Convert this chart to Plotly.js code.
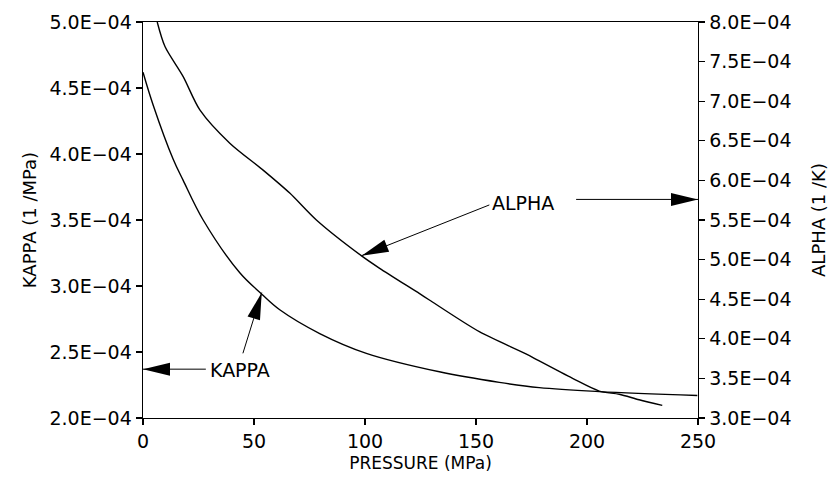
<!DOCTYPE html>
<html><head><meta charset="utf-8">
<script src="https://cdn.plot.ly/plotly-3.0.1.min.js"></script>
<style>html,body{margin:0;padding:0;background:#fff}</style>
</head><body><div id="chart" style="width:839px;height:479px"></div>
<script>
// Data (pressure in MPa, values in units of 1E-04)
const pressureKappa = [0, 4.6, 13.6, 18.1, 27.1, 43.6, 53.4, 61.6, 79.6, 100.6, 133.5, 160.5, 178.5, 205.5, 249.7];
const kappaE4 = [4.62, 4.37, 3.96, 3.80, 3.50, 3.10, 2.94, 2.82, 2.64, 2.49, 2.35, 2.27, 2.23, 2.20, 2.17];
const pressureAlpha = [6.4, 9.9, 18.1, 25.6, 39.1, 54.1, 66.1, 78.1, 98.3, 106.6, 124.6, 129, 151.5, 172.5, 178.5, 193.5, 205.5, 214.5, 223.5, 233.9];
const alphaE4 = [8.0, 7.69, 7.31, 6.89, 6.47, 6.13, 5.84, 5.50, 5.05, 4.89, 4.57, 4.49, 4.09, 3.81, 3.72, 3.50, 3.34, 3.30, 3.23, 3.16];
const xTicks = [0, 50, 100, 150, 200, 250];
const kappaTicksE4 = [2.0, 2.5, 3.0, 3.5, 4.0, 4.5, 5.0];
const alphaTicksE4 = [3.0, 3.5, 4.0, 4.5, 5.0, 5.5, 6.0, 6.5, 7.0, 7.5, 8.0];
const fmt = v => v.toFixed(1) + 'E\u221204';

const W = 839, H = 479, M = {l: 143, r: 141, t: 22, b: 61};
const xRange = [0, 250], y1Range = [2.0e-4, 5.0e-4], y2Range = [3.0e-4, 8.0e-4];
const sx = (W - M.l - M.r) / (xRange[1] - xRange[0]);
const sy1 = (H - M.t - M.b) / (y1Range[1] - y1Range[0]);
const sy2 = (H - M.t - M.b) / (y2Range[1] - y2Range[0]);
const FONT = 'DejaVu Sans';

function arrow(x0, y0, x1, y1, yref) {
  const sy = yref === 'y' ? sy1 : sy2;
  const dx = (x1 - x0) * sx, dy = (y1 - y0) * sy;
  const len = Math.hypot(dx, dy), ux = dx / len, uy = dy / len;
  const nx = -uy, ny = ux, L = 27, Wd = 13;
  const p1 = [-L * ux + Wd / 2 * nx, -L * uy + Wd / 2 * ny];
  const p2 = [-L * ux - Wd / 2 * nx, -L * uy - Wd / 2 * ny];
  return [
    {type: 'line', xref: 'x', yref: yref, x0: x0, y0: y0, x1: x1, y1: y1, line: {color: '#000', width: 1}},
    {type: 'path', xref: 'x', yref: yref, xsizemode: 'pixel', ysizemode: 'pixel', xanchor: x1, yanchor: y1,
     path: `M0,0 L${p1[0].toFixed(2)},${p1[1].toFixed(2)} L${p2[0].toFixed(2)},${p2[1].toFixed(2)} Z`,
     fillcolor: '#000', line: {width: 0}}
  ];
}

const traces = [
  {x: pressureKappa, y: kappaE4.map(v => v * 1e-4), mode: 'lines', line: {color: '#000', width: 1.4, shape: 'spline', smoothing: 1}, yaxis: 'y', showlegend: false},
  {x: pressureAlpha, y: alphaE4.map(v => v * 1e-4), mode: 'lines', line: {color: '#000', width: 1.4, shape: 'spline', smoothing: 0.8}, yaxis: 'y2', showlegend: false}
];

const shapes = [].concat(
  arrow(28.3, 2.37e-4, 0, 2.37e-4, 'y'),
  arrow(45, 2.49e-4, 53.5, 2.95e-4, 'y'),
  arrow(156, 5.69e-4, 98.5, 5.05e-4, 'y2'),
  arrow(195.1, 5.76e-4, 250, 5.76e-4, 'y2')
);

const axisCommon = {ticks: 'outside', ticklen: 6, tickcolor: '#000', tickwidth: 1.2, showline: true, linecolor: '#000',
                    linewidth: 1.4, showgrid: false, zeroline: false, tickfont: {size: 19}};

const layout = {
  width: W, height: H, margin: M,
  paper_bgcolor: '#fff', plot_bgcolor: '#fff',
  font: {family: FONT, size: 18, color: '#000'},
  showlegend: false,
  xaxis: Object.assign({}, axisCommon, {range: xRange, tickvals: xTicks, ticktext: xTicks.map(String), mirror: true,
          title: {text: 'PRESSURE (MPa)', font: {size: 17}, standoff: 6}}),
  yaxis: Object.assign({}, axisCommon, {range: y1Range, tickvals: kappaTicksE4.map(v => v * 1e-4), ticktext: kappaTicksE4.map(fmt),
          title: {text: 'KAPPA (1 /MPa)', font: {size: 18}, standoff: 8}}),
  yaxis2: Object.assign({}, axisCommon, {range: y2Range, overlaying: 'y', side: 'right', tickvals: alphaTicksE4.map(v => v * 1e-4), ticktext: alphaTicksE4.map(fmt),
          title: {text: 'ALPHA (1 /K)', font: {size: 18}, standoff: 22}}),
  shapes: shapes,
  annotations: [
    {x: 43.6, y: 2.36e-4, xref: 'x', yref: 'y', text: 'KAPPA', showarrow: false, font: {size: 19}},
    {x: 171, y: 5.72e-4, xref: 'x', yref: 'y2', text: 'ALPHA', showarrow: false, font: {size: 19}}
  ]
};

Plotly.newPlot('chart', traces, layout, {staticPlot: true, displayModeBar: false});
</script>
</body></html>
